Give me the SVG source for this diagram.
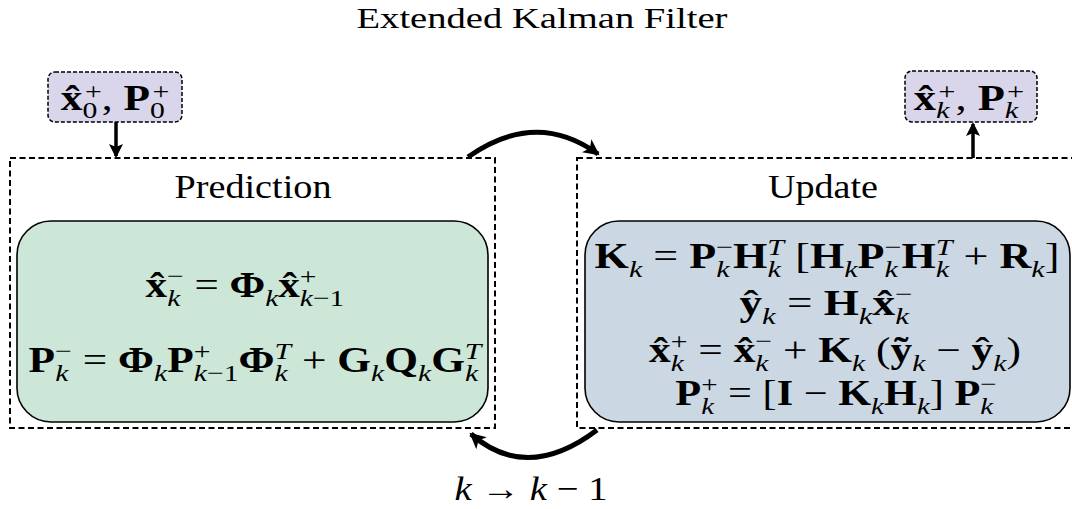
<svg xmlns="http://www.w3.org/2000/svg" width="1072" height="509" viewBox="0 0 1072 509">
<style>
.t{font-family:"Liberation Serif",serif;fill:#000}
.m{font-family:"Liberation Serif",serif;font-size:35px;fill:#000}
.b{font-weight:bold}
.i{font-style:italic;font-weight:normal}
.s{font-size:24px}
.dash{fill:none;stroke:#000;stroke-width:2;stroke-dasharray:6 3.5}
.arc{fill:none;stroke:#000;stroke-width:5}
.ln{fill:none;stroke:#000;stroke-width:3.5}
.io{fill:#d9d5ea;stroke:#000;stroke-width:1.5;stroke-dasharray:4 2}
</style>
<defs>
<marker id="ah" markerUnits="userSpaceOnUse" markerWidth="20" markerHeight="20" refX="14" refY="8" orient="auto">
<path d="M0,0 L16,8 L0,16 L4,8 Z" fill="#000"/>
</marker>
<marker id="ah2" markerUnits="userSpaceOnUse" markerWidth="20" markerHeight="20" refX="12" refY="7" orient="auto">
<path d="M0,0 L14,7 L0,14 L3,7 Z" fill="#000"/>
</marker>
</defs>
<rect width="1072" height="509" fill="#fff"/>
<text class="t" x="542" y="28" font-size="30" text-anchor="middle" textLength="371" lengthAdjust="spacingAndGlyphs">Extended Kalman Filter</text>

<g id="prediction">
<rect class="dash" x="10" y="158" width="485" height="270"/>
<text class="t" x="253" y="198" font-size="33" text-anchor="middle" textLength="157" lengthAdjust="spacingAndGlyphs">Prediction</text>
<rect x="17" y="221" width="471" height="201" rx="34" fill="#cce6d7" stroke="#000" stroke-width="1.6"/>
<text class="m" transform="translate(245,297) scale(1.23,1)" text-anchor="middle"><tspan class="b">x̂</tspan><tspan class="s i" dy="9">k</tspan><tspan class="s" dx="-10.7" dy="-22">−</tspan><tspan dy="13"> = </tspan><tspan class="b">Φ</tspan><tspan class="s i" dy="9">k</tspan><tspan class="b" dy="-9">x̂</tspan><tspan class="s" dy="-13">+</tspan><tspan class="s" dx="-13.5" dy="22"><tspan class="i">k</tspan>−1</tspan></text>
<text class="m" transform="translate(255,372) scale(1.24,1)" text-anchor="middle"><tspan class="b">P</tspan><tspan class="s i" dy="9">k</tspan><tspan class="s" dx="-10.7" dy="-22">−</tspan><tspan dy="13"> = </tspan><tspan class="b">Φ</tspan><tspan class="s i" dy="9">k</tspan><tspan class="b" dy="-9">P</tspan><tspan class="s" dy="-13">+</tspan><tspan class="s" dx="-13.5" dy="22"><tspan class="i">k</tspan>−1</tspan><tspan class="b" dy="-9">Φ</tspan><tspan class="s i" dy="9">k</tspan><tspan class="s i" dx="-10.7" dy="-22">T</tspan><tspan dy="13"> + </tspan><tspan class="b">G</tspan><tspan class="s i" dy="9">k</tspan><tspan class="b" dy="-9">Q</tspan><tspan class="s i" dy="9">k</tspan><tspan class="b" dy="-9">G</tspan><tspan class="s i" dy="9">k</tspan><tspan class="s i" dx="-10.7" dy="-22">T</tspan></text>
</g>

<g id="update">
<rect class="dash" x="577" y="158" width="520" height="270"/>
<text class="t" x="823" y="198" font-size="33" text-anchor="middle" textLength="110" lengthAdjust="spacingAndGlyphs">Update</text>
<rect x="585" y="221" width="485" height="201" rx="34" fill="#cbd8e4" stroke="#000" stroke-width="1.6"/>
<text class="m" transform="translate(827,268) scale(1.26,1)" text-anchor="middle"><tspan class="b">K</tspan><tspan class="s i" dy="9">k</tspan><tspan dy="-9"> = </tspan><tspan class="b">P</tspan><tspan class="s i" dy="9">k</tspan><tspan class="s" dx="-10.7" dy="-22">−</tspan><tspan class="b" dy="13">H</tspan><tspan class="s i" dy="9">k</tspan><tspan class="s i" dx="-10.7" dy="-22">T</tspan><tspan dy="13"> [</tspan><tspan class="b">H</tspan><tspan class="s i" dy="9">k</tspan><tspan class="b" dy="-9">P</tspan><tspan class="s i" dy="9">k</tspan><tspan class="s" dx="-10.7" dy="-22">−</tspan><tspan class="b" dy="13">H</tspan><tspan class="s i" dy="9">k</tspan><tspan class="s i" dx="-10.7" dy="-22">T</tspan><tspan dy="13"> + </tspan><tspan class="b">R</tspan><tspan class="s i" dy="9">k</tspan><tspan dy="-9">]</tspan></text>
<text class="m" transform="translate(826,315) scale(1.29,1)" text-anchor="middle"><tspan class="b">ŷ</tspan><tspan class="s i" dy="9">k</tspan><tspan dy="-9"> = </tspan><tspan class="b">H</tspan><tspan class="s i" dy="9">k</tspan><tspan class="b" dy="-9">x̂</tspan><tspan class="s i" dy="9">k</tspan><tspan class="s" dx="-10.7" dy="-22">−</tspan></text>
<text class="m" transform="translate(835,362) scale(1.24,1)" text-anchor="middle"><tspan class="b">x̂</tspan><tspan class="s i" dy="9">k</tspan><tspan class="s" dx="-10.7" dy="-22">+</tspan><tspan dy="13"> = </tspan><tspan class="b">x̂</tspan><tspan class="s i" dy="9">k</tspan><tspan class="s" dx="-10.7" dy="-22">−</tspan><tspan dy="13"> + </tspan><tspan class="b">K</tspan><tspan class="s i" dy="9">k</tspan><tspan dy="-9"> (</tspan><tspan class="b">ỹ</tspan><tspan class="s i" dy="9">k</tspan><tspan dy="-9"> − </tspan><tspan class="b">ŷ</tspan><tspan class="s i" dy="9">k</tspan><tspan dy="-9">)</tspan></text>
<text class="m" transform="translate(836,405) scale(1.21,1)" text-anchor="middle"><tspan class="b">P</tspan><tspan class="s i" dy="9">k</tspan><tspan class="s" dx="-10.7" dy="-22">+</tspan><tspan dy="13"> = [</tspan><tspan class="b">I</tspan><tspan> − </tspan><tspan class="b">K</tspan><tspan class="s i" dy="9">k</tspan><tspan class="b" dy="-9">H</tspan><tspan class="s i" dy="9">k</tspan><tspan dy="-9">] </tspan><tspan class="b">P</tspan><tspan class="s i" dy="9">k</tspan><tspan class="s" dx="-10.7" dy="-22">−</tspan></text>
</g>

<g id="init">
<rect class="io" x="48" y="72" width="134" height="50" rx="7"/>
<text class="m" transform="translate(115,110) scale(1.24,1)" text-anchor="middle" font-size="29"><tspan class="b">x̂</tspan><tspan class="s" font-size="20" dy="8">0</tspan><tspan class="s" font-size="20" dx="-10" dy="-19">+</tspan><tspan dy="11">, </tspan><tspan class="b">P</tspan><tspan class="s" font-size="20" dy="8">0</tspan><tspan class="s" font-size="20" dx="-10" dy="-19">+</tspan></text>
</g>

<g id="output">
<rect class="io" x="905" y="71" width="132" height="51" rx="7"/>
<text class="m" transform="translate(969,110) scale(1.27,1)" text-anchor="middle" font-size="29"><tspan class="b">x̂</tspan><tspan class="s i" font-size="20" dy="8">k</tspan><tspan class="s" font-size="20" dx="-8.9" dy="-19">+</tspan><tspan dy="11">, </tspan><tspan class="b">P</tspan><tspan class="s i" font-size="20" dy="8">k</tspan><tspan class="s" font-size="20" dx="-8.9" dy="-19">+</tspan></text>
</g>

<g id="connectors">
<path class="arc" d="M468,157 Q536,109 598,154" marker-end="url(#ah)"/>
<path class="arc" d="M597,430 Q527,483 471,434" marker-end="url(#ah)"/>
<path class="ln" d="M116,122 L116,156" marker-end="url(#ah2)"/>
<path class="ln" d="M973,158 L973,124" marker-end="url(#ah2)"/>
<text class="t" x="531" y="500" font-size="34" text-anchor="middle" textLength="153" lengthAdjust="spacingAndGlyphs"><tspan font-style="italic">k</tspan> → <tspan font-style="italic">k</tspan> − 1</text>
</g>
</svg>
